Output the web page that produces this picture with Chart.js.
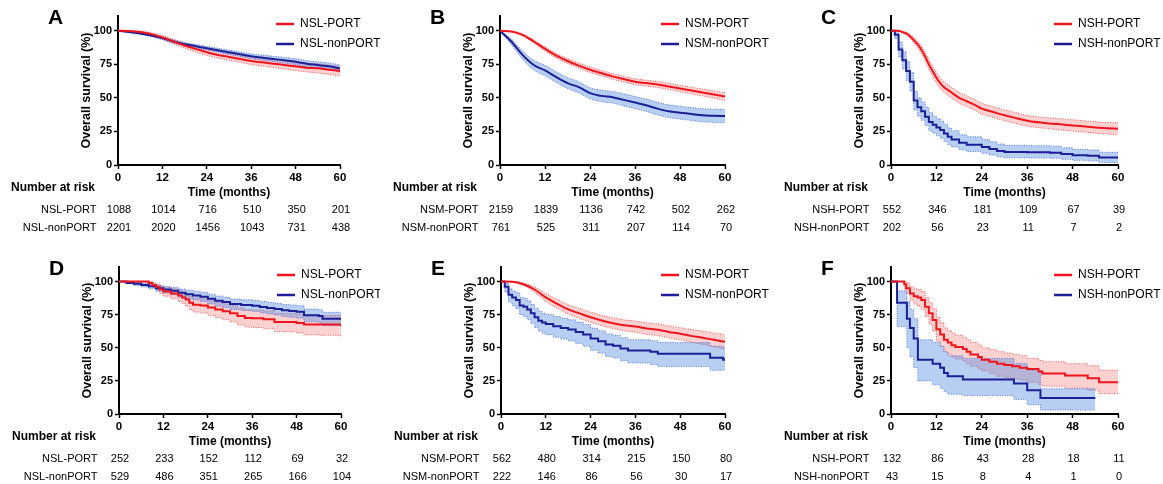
<!DOCTYPE html>
<html>
<head>
<meta charset="utf-8">
<script src="https://cdn.jsdelivr.net/npm/chart.js@4.4.0/dist/chart.umd.min.js"></script>
<style>
  html, body { margin: 0; padding: 0; background: #fff; }
  #wrap { position: relative; width: 1163px; height: 484px; overflow: hidden; }
  #wrap canvas { position: absolute; }
</style>
</head>
<body>
<div id="wrap"></div>
<script>
// axis ticks
const xTicks = [0, 12, 24, 36, 48, 60];
const yTicks = [0, 25, 50, 75, 100];
const riskTimes = [0, 12, 24, 36, 48, 60];

// common time grid for the dense (large cohort) curves
const grid3 = [0,3,6,9,12,15,18,21,24,27,30,33,36,39,42,45,48,51,54,57,60];

// A: NSL (all)
const aRed   = [100,99.8,99,97.5,95,92,89,86.5,84,82,80.5,79,77.5,76.5,75.5,74.5,73.5,72.5,72,71,70];
const aRedLo = [100,99.5,98.2,96.3,93.5,90.2,87,84.3,81.7,79.6,78,76.4,74.8,73.7,72.6,71.5,70.4,69.3,68.6,67.5,66.3];
const aRedHi = [100,100,99.7,98.6,96.5,93.8,91,88.7,86.3,84.4,83,81.6,80.2,79.3,78.4,77.5,76.6,75.7,75.4,74.5,73.7];
const aBlue   = [100,99,98,96.5,94.5,92,90,88.5,87,85.5,84,82.5,81,80,79,78,77,75.5,74.5,73.5,72];
const aBlueLo = [100,98.6,97.4,95.7,93.5,90.9,88.8,87.2,85.6,84,82.4,80.8,79.2,78.1,77,75.9,74.8,73.2,72.1,71,69.4];
const aBlueHi = [100,99.4,98.6,97.3,95.5,93.1,91.2,89.8,88.4,87,85.6,84.2,82.8,81.9,81,80.1,79.2,77.8,76.9,76,74.6];

// B: NSM (all)
const bRed   = [100,99.5,97,92,86.5,81.5,77.5,74,71,68.5,66,64,62,61,60,58.5,57,55.5,54,52.5,51];
const bRedLo = [100,99.2,96.2,90.8,85,79.8,75.7,72.1,69,66.5,63.9,61.9,59.8,58.8,57.7,56.2,54.6,53,51.4,49.8,48.2];
const bRedHi = [100,99.8,97.8,93.2,88,83.2,79.3,75.9,73,70.5,68.1,66.1,64.2,63.2,62.3,60.8,59.4,58,56.6,55.2,53.8];
const bBlue   = [100,92,82,74.5,70.5,65.5,61,58,53.5,51.5,50.5,48.5,46.5,44.5,42,40,39,38,37,36.7,36.5];
const bBlueLo = [100,89.8,78.8,70.8,66.5,61.5,57,53.8,49.3,47.2,46.1,44,42,39.9,37.3,35.3,34.2,33.2,32.2,31.8,31.4];
const bBlueHi = [100,94,85,78,74.3,69.4,65,62.1,57.6,55.7,54.8,53,51,49.1,46.7,44.8,43.8,42.8,41.9,41.6,41.5];

// C: NSH (all)
const cRedT  = [0,2,3,4,5,6,7,8,9,10,11,12,13,14,15,16,18,20,22,24,27,30,33,36,40,44,48,52,56,60];
const cRed   = [100,100,99,98,96,93,90,86,81,75,70,65,61,58,56,54,50,47.5,45,42,39.5,37,35,33,31.5,30.5,29.5,28.5,27.5,27];
const cRedLo = [100,100,98.5,97,94.5,91,87.5,83,77.7,71.4,66.2,61,57,54,52,50,46,43.5,41,38,35.5,33,31,29,27.5,26.3,25.3,24.3,23.2,22.5];
const cRedHi = [100,100,99.5,99,97.5,95,92.5,89,84.3,78.6,73.8,69,65,62,60,58,54,51.5,49,46,43.5,41,39,37,35.5,34.7,33.7,32.7,31.8,31.5];
const cBlueT  = [0,1,2,3,4,5,6,7,8,9,10,11,12,13,14,15,16,18,20,24,26,28,30,36,42,45,48,52,55,60];
const cBlue   = [100,97,86,78,70,62,48,43,40,36,32,30,28,26,23.5,21,19,16.5,15,13.5,12,10.5,9.7,9.5,9.2,8.2,7.3,6.8,5.5,5.5];
const cBlueLo = [100,94,80.5,71.5,63,55,41,36.3,33.3,29.4,25.6,23.7,21.8,19.9,17.6,15.3,13.5,11.3,10,8.7,7.4,6.1,5.4,5.2,5,4.2,3.5,3,1.8,1.8];
const cBlueHi = [100,99.5,91.5,84.5,77,69,55,50,47,43,39,36.5,34.5,32.5,30,27.5,25.5,22.5,21,19,17.3,15.6,14.7,14.4,14,12.8,11.7,11.2,9.5,9.5];

// D: NSL (matched)
const dRedT  = [0,7,8,9,10,11,12,14,16,17,18,19,20,22,24,26,28,30,32,34,36,39,42,46,48,50,54,59,60];
const dRed   = [100,100,99,97.5,96,94,92.5,91,89.5,88,86.5,84,82.5,82,80.5,79,77.5,76,74,72.5,72.3,71.5,69.5,69.5,68.8,67.5,67.5,67.5,66];
const dRedLo = [100,100,97.5,95.5,93.5,91,89,87,85,83.5,81.5,78.8,77,76.3,74.5,72.8,71.2,69.5,67.2,65.6,65.3,64.4,62.3,62,61.2,59.8,59.5,59.2,57.5];
const dRedHi = [100,100,100,99,98,96.5,95.5,94.5,93.5,92,90.8,88.7,87.4,87,85.8,84.5,83.1,81.8,80,78.7,78.6,77.8,76,76,75.5,74.4,74.4,74.4,73.5];
const dBlueT  = [0,2,4,6,8,10,12,14,16,18,20,22,24,26,28,30,33,36,38,40,42,44,46,48,50,52,54,55,60];
const dBlue   = [100,99,98.3,97.5,96.5,95,94,93,91.5,90.5,89.5,88.5,87,85.5,84.5,83,82.3,81.8,80.8,80,79.3,78.3,77.8,77.3,74.6,74.6,74,72,72];
const dBlueLo = [100,98.3,97.1,95.9,94.5,92.6,91.3,90,88.3,87.1,86,84.8,83.2,81.5,80.5,78.9,78.1,77.5,76.4,75.5,74.7,73.6,73,72.4,69.6,69.6,68.9,66.8,66.5];
const dBlueHi = [100,99.6,99.3,98.8,98.1,97,96.2,95.5,94.3,93.5,92.7,91.9,90.5,89.1,88.2,86.8,86.2,85.8,84.9,84.2,83.6,82.6,82.2,81.8,79.2,79.2,78.7,76.8,76.8];

// E: NSM (matched)
const eRed   = [100,99.8,98,94,88,83.3,79,76,73,70.6,68.6,67,66,64.6,63.6,62,60.6,59,57.6,56,54.5];
const eRedLo = [100,99.5,97,92,85,80,75.5,72.3,69.2,66.7,64.6,62.9,61.8,60.3,59.2,57.5,56,54.2,52.6,50.8,49];
const eRedHi = [100,100,99,96,91,86.6,82.5,79.7,76.8,74.5,72.6,71.1,70.2,68.9,68,66.5,65.2,63.8,62.6,61.2,60];
const eBlueT  = [0,1,2,3,4,5,6,7,8,9,10,11,12,14,16,18,20,22,24,26,28,30,32,34,38,40,42,56,59.5,60];
const eBlue   = [100,96,90,88,86,82,81,79,76,73,70.5,69,68,66.3,65,63.8,62,60,57,55,52.5,51.5,49.5,48,48,47,45.5,42.5,41,41];
const eBlueLo = [100,92,84.5,81.7,79.5,75,73.7,71.5,68.3,65.2,62.6,61,59.9,58,56.6,55.2,53.3,51.2,48.1,46,43.4,42.3,40.2,38.6,38.5,37.4,35.8,33,33,33];
const eBlueHi = [100,99,94.5,92.8,91.5,88,87.5,85.5,82.8,79.9,77.5,76,75.1,73.6,72.3,71.1,69.4,67.6,64.8,62.8,60.5,59.5,57.6,56.1,56.1,55.3,53.9,51.2,50,50];

// F: NSH (matched)
const fRedT  = [0,3,3.5,4,5,6,7,8,9,10,11,12,13,14,15,16,17,19,20,21,23,24,26,28,30,32,34,36,39,40,44,46,50,52,55,60];
const fRed   = [100,100,98,95,91,89,88,86,81,76,71,64,60,56,54,52,50.5,49,47,45,43,41,39.5,38,37,36,35,34,32,30.5,30.5,29,29,27,24,24];
const fRedLo = [100,100,95,91,86,83,81.5,79,73.5,68,62.5,55,51,47,45,43,41.5,40,38,36,34,32.5,30.5,28.5,27.5,26.5,25.5,24,22.5,21,21,19.5,19.5,18,15.5,15.5];
const fRedHi = [100,100,100,99,96,94.5,94,92.5,88,84,79.5,73,69,65,63,61,59.5,58,56,54,52,50,48.5,47,46,45,44,42,40.5,39.5,39.5,38,38,36.5,33,33];
const fBlueT  = [0,1.6,4.2,5,6,7.1,11,13,14,15,19,32.5,36,39.5,54];
const fBlue   = [100,84,72,65,57,41,38,35,31,28.5,26,23,18,12,12];
const fBlueLo = [100,66,50,43,35,25,22,19.5,17,15,14,11,7,3,3];
const fBlueHi = [100,93,85,79,72,56,54,51,47,44,42,38,33,19,19];

// numbers at risk
const riskAPort = [1088,1014,716,510,350,201];
const riskANon  = [2201,2020,1456,1043,731,438];
const riskBPort = [2159,1839,1136,742,502,262];
const riskBNon  = [761,525,311,207,114,70];
const riskCPort = [552,346,181,109,67,39];
const riskCNon  = [202,56,23,11,7,2];
const riskDPort = [252,233,152,112,69,32];
const riskDNon  = [529,486,351,265,166,104];
const riskEPort = [562,480,314,215,150,80];
const riskENon  = [222,146,86,56,30,17];
const riskFPort = [132,86,43,28,18,11];
const riskFNon  = [43,15,8,4,1,0];

const FONT = "'Liberation Sans', Arial, Helvetica, sans-serif";
Chart.defaults.font.family = FONT;
Chart.defaults.color = '#000';

const RED = '#f0151c';
const BLUE = '#1e1f96';
const RED_BAND = 'rgba(250,90,90,0.28)';
const BLUE_BAND = 'rgba(80,140,225,0.42)';
const RED_EDGE = 'rgba(245,70,70,0.9)';
const BLUE_EDGE = 'rgba(70,100,220,0.9)';

const panels = [
  { letter: 'A', grp: 'NSL', x: 0,   y: 0,   w: 380, h: 244, left: 118, right: 340,  top: 16,  bottom: 165,
    red: [grid3, aRed, aRedLo, aRedHi, false], blue: [grid3, aBlue, aBlueLo, aBlueHi, false], risk: [riskAPort, riskANon] },
  { letter: 'B', grp: 'NSM', x: 380, y: 0,   w: 390, h: 244, left: 500, right: 725,  top: 16,  bottom: 165,
    red: [grid3, bRed, bRedLo, bRedHi, false], blue: [grid3, bBlue, bBlueLo, bBlueHi, false], risk: [riskBPort, riskBNon] },
  { letter: 'C', grp: 'NSH', x: 770, y: 0,   w: 393, h: 244, left: 891, right: 1118, top: 16,  bottom: 165,
    red: [cRedT, cRed, cRedLo, cRedHi, false], blue: [cBlueT, cBlue, cBlueLo, cBlueHi, true], risk: [riskCPort, riskCNon] },
  { letter: 'D', grp: 'NSL', x: 0,   y: 244, w: 380, h: 240, left: 119, right: 341,  top: 267, bottom: 414,
    red: [dRedT, dRed, dRedLo, dRedHi, true], blue: [dBlueT, dBlue, dBlueLo, dBlueHi, true], risk: [riskDPort, riskDNon] },
  { letter: 'E', grp: 'NSM', x: 380, y: 244, w: 390, h: 240, left: 501, right: 725,  top: 267, bottom: 414,
    red: [grid3, eRed, eRedLo, eRedHi, false], blue: [eBlueT, eBlue, eBlueLo, eBlueHi, true], risk: [riskEPort, riskENon] },
  { letter: 'F', grp: 'NSH', x: 770, y: 244, w: 393, h: 240, left: 891, right: 1118, top: 267, bottom: 414,
    red: [fRedT, fRed, fRedLo, fRedHi, true], blue: [fBlueT, fBlue, fBlueLo, fBlueHi, true], risk: [riskFPort, riskFNon] }
];

function pts(t, v) {
  return t.map((x, i) => ({ x: x, y: v[i] }));
}

// main line + CI band (upper fills down to lower)
function curveSets(c, col, band, edge, bandOrder) {
  const [t, s, lo, hi, stepped] = c;
  const shape = { stepped: stepped, cubicInterpolationMode: stepped ? 'default' : 'monotone', pointRadius: 0 };
  const line = Object.assign({ data: pts(t, s), borderColor: col, borderWidth: 2, fill: false, order: 0 }, shape);
  const edgeOpts = Object.assign({ borderColor: edge, borderWidth: 1, borderDash: [1, 1.5], order: bandOrder }, shape);
  const upper = Object.assign({ data: pts(t, hi), fill: '+1', backgroundColor: band }, edgeOpts);
  const lower = Object.assign({ data: pts(t, lo), fill: false }, edgeOpts);
  return [line, upper, lower];
}

const wrap = document.getElementById('wrap');
const Y_W = 39, X_H = 35;

function makePanel(p) {
  const cv = document.createElement('canvas');
  cv.width = p.w; cv.height = p.h;
  cv.style.left = p.x + 'px'; cv.style.top = p.y + 'px';
  cv.style.width = p.w + 'px'; cv.style.height = p.h + 'px';
  wrap.appendChild(cv);

  const r = curveSets(p.red, RED, RED_BAND, RED_EDGE, 2);
  const b = curveSets(p.blue, BLUE, BLUE_BAND, BLUE_EDGE, 1);
  const names = [p.grp + '-PORT', p.grp + '-nonPORT'];

  // panel letter, legend and risk table
  const extras = {
    id: 'extras' + p.letter,
    afterDraw(chart) {
      const ctx = chart.ctx, a = chart.chartArea, xs = chart.scales.x;
      ctx.save();
      ctx.fillStyle = '#000';
      ctx.textAlign = 'left';
      ctx.textBaseline = 'alphabetic';
      ctx.font = 'bold 21px ' + FONT;
      ctx.fillText(p.letter, a.left - 70, a.top + 8);

      [RED, BLUE].forEach((col, i) => {
        const y = a.top + 8 + i * 20;
        ctx.strokeStyle = col;
        ctx.lineWidth = 2.5;
        ctx.beginPath();
        ctx.moveTo(a.right - 64, y);
        ctx.lineTo(a.right - 46, y);
        ctx.stroke();
        ctx.font = '12px ' + FONT;
        ctx.textBaseline = 'middle';
        ctx.fillText(names[i], a.right - 40, y);
      });

      ctx.textBaseline = 'middle';
      ctx.font = 'bold 12px ' + FONT;
      ctx.textAlign = 'left';
      ctx.fillText('Number at risk', a.left - 107, a.bottom + 23);
      ctx.font = '11px ' + FONT;
      p.risk.forEach((row, i) => {
        const y = a.bottom + 44.5 + i * 18;
        ctx.textAlign = 'right';
        ctx.fillText(names[i], a.left - 21.5, y);
        ctx.textAlign = 'center';
        row.forEach((n, j) => ctx.fillText(String(n), xs.getPixelForValue(riskTimes[j]) + 1, y));
      });
      ctx.restore();
    }
  };

  const axisCommon = {
    grid: { display: true, drawOnChartArea: false, drawTicks: true, tickLength: 4, tickWidth: 1.5, tickColor: '#000' },
    border: { display: true, color: '#000', width: 2 }
  };

  new Chart(cv, {
    type: 'line',
    data: { datasets: [r[0], b[0], r[1], r[2], b[1], b[2]] },
    options: {
      responsive: false,
      animation: false,
      devicePixelRatio: 1,
      layout: {
        padding: {
          left: p.left - p.x - Y_W,
          right: p.x + p.w - p.right,
          top: p.top - p.y,
          bottom: p.y + p.h - p.bottom - X_H
        }
      },
      plugins: { legend: { display: false }, tooltip: { enabled: false } },
      scales: {
        x: Object.assign({
          type: 'linear', min: 0, max: 60,
          afterFit: s => { s.height = X_H; },
          afterBuildTicks: s => { s.ticks = xTicks.map(v => ({ value: v })); },
          ticks: { font: { size: 11.5, weight: 'bold' }, color: '#000', padding: 2, maxRotation: 0, autoSkip: false },
          title: { display: true, text: 'Time (months)', font: { size: 12, weight: 'bold' }, color: '#000', padding: 0 }
        }, axisCommon),
        y: Object.assign({
          type: 'linear', min: 0, max: 111,
          afterFit: s => { s.width = Y_W; },
          afterBuildTicks: s => { s.ticks = yTicks.map(v => ({ value: v })); },
          ticks: { font: { size: 11, weight: 'bold' }, color: '#000', padding: 2 },
          title: { display: true, text: 'Overall survival (%)', font: { size: 12.5, weight: 'bold' }, color: '#000', padding: 0 }
        }, axisCommon)
      }
    },
    plugins: [extras]
  });
}

panels.forEach(makePanel);
</script>
</body>
</html>
